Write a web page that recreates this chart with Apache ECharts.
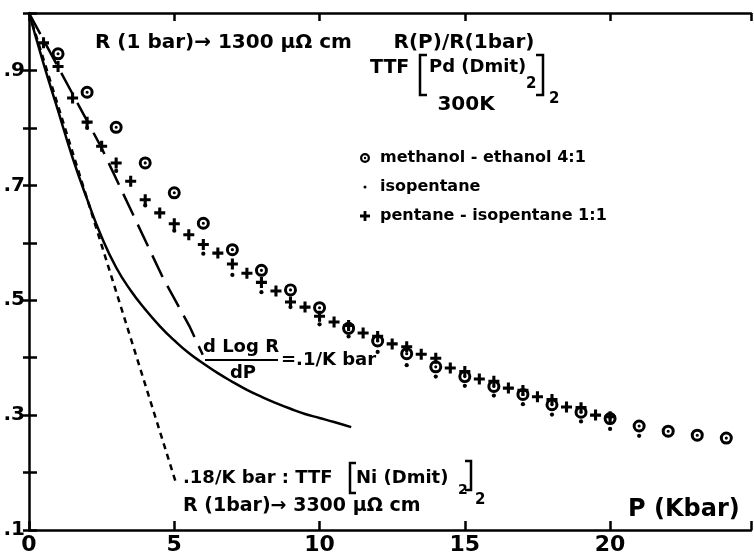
<!DOCTYPE html>
<html><head><meta charset="utf-8">
<script src="https://cdn.jsdelivr.net/npm/echarts@6/dist/echarts.min.js"></script>
<style>html,body{margin:0;padding:0;background:#fff}#c{width:754px;height:556px}</style>
</head><body><div id="c"></div>
<script>
// ---- data ----
const methanolP = [1,2,3,4,5,6,7,8,9,10,11,12,13,14,15,16,17,18,19,20,21,22,23,24];
const methanolR = [0.929,0.862,0.801,0.739,0.687,0.634,0.588,0.552,0.518,0.487,0.451,0.429,0.407,0.384,0.367,0.350,0.336,0.318,0.305,0.294,0.281,0.272,0.265,0.260];
const isoP = [2,3,4,5,6,7,8,9,10,11,12,13,14,15,16,17,18,19,20,21];
const isoR = [0.800,0.725,0.665,0.621,0.581,0.544,0.514,0.488,0.458,0.437,0.410,0.387,0.367,0.351,0.334,0.319,0.301,0.289,0.276,0.264];
const pentP = [0.5,1,1.5,2,2.5,3,3.5,4,4.5,5,5.5,6,6.5,7,7.5,8,8.5,9,9.5,10,10.5,11,11.5,12,12.5,13,13.5,14,14.5,15,15.5,16,16.5,17,17.5,18,18.5,19,19.5,20];
const pentR = [0.948,0.907,0.852,0.810,0.768,0.739,0.707,0.675,0.652,0.633,0.614,0.597,0.582,0.563,0.547,0.531,0.516,0.497,0.488,0.472,0.462,0.456,0.443,0.437,0.424,0.419,0.406,0.399,0.382,0.376,0.363,0.359,0.347,0.343,0.332,0.327,0.314,0.313,0.300,0.297];
const solidP = [0,0.5,1.0,1.5,2.0,2.5,3.0,3.5,4.0,4.5,5.0,5.5,6.0,6.5,7.0,7.5,8.0,8.5,9.0,9.5,10.0,10.5,11.09];
const solidR = [1.0,0.912,0.830,0.748,0.676,0.610,0.557,0.517,0.484,0.455,0.430,0.408,0.390,0.373,0.358,0.344,0.332,0.321,0.311,0.302,0.295,0.288,0.279];
const dashP = [0,2.48,4.6,5.52,5.98];
const dashR = [1.0,0.767,0.54,0.455,0.405];
const dotP = [0,5.07];
const dotR = [1.0,0.18];
const xTickValues = [0,5,10,15,20];
const yTickLabels = {1:'.1',3:'.3',5:'.5',7:'.7',9:'.9'};

const pairs = (xs, ys) => xs.map((x, i) => [x, ys[i]]);

const FONT = 'DejaVu Sans';
const ringPath = 'path://M0,-10 A10,10 0 1,1 0,10 A10,10 0 1,1 0,-10 Z M0,-5.4 A5.4,5.4 0 1,0 0,5.4 A5.4,5.4 0 1,0 0,-5.4 Z M0,-2.4 A2.4,2.4 0 1,1 0,2.4 A2.4,2.4 0 1,1 0,-2.4 Z';
const plusPath = 'path://M3.6,0 L6.4,0 L6.4,3.6 L10,3.6 L10,6.4 L6.4,6.4 L6.4,10 L3.6,10 L3.6,6.4 L0,6.4 L0,3.6 L3.6,3.6 Z';
const dotPath = 'path://M-10,-10 L-10,-10 M10,10 L10,10 M0,-3 A3,3 0 1,1 0,3 A3,3 0 1,1 0,-3 Z';

function txt(text, x, y, size, align, weight) {
  return {type:'text', x:x, y:y, silent:true, style:{text:text, fill:'#000', fontSize:size, fontFamily:FONT, fontWeight:weight||'bold', textAlign:align||'left', textVerticalAlign:'middle'}};
}
function pl(points, w) {
  return {type:'polyline', silent:true, shape:{points:points}, style:{stroke:'#000', lineWidth:w||2.5, fill:null}};
}

const chart = echarts.init(document.getElementById('c'), null, {renderer:'canvas'});
chart.setOption({
  animation:false,
  backgroundColor:'#fff',
  grid:{left:29, right:3, top:13, bottom:21, containLabel:false},
  xAxis:[{
    type:'value', min:0, max:24.85, interval:5, position:'bottom',
    axisLine:{show:true, onZero:false, lineStyle:{color:'#000', width:2.5}},
    axisTick:{show:true, inside:true, length:9, lineStyle:{color:'#000', width:2.5}},
    axisLabel:{show:true, margin:4, color:'#000', fontSize:22, fontWeight:'bold', fontFamily:FONT,
      formatter:v => xTickValues.indexOf(Math.round(v*1000)/1000) >= 0 ? String(Math.round(v)) : ''},
    splitLine:{show:false}
  },{
    type:'value', min:0, max:24.85, interval:5, position:'top',
    axisLine:{show:true, onZero:false, lineStyle:{color:'#000', width:2.5}},
    axisTick:{show:true, inside:true, length:8, lineStyle:{color:'#000', width:2.5}},
    axisLabel:{show:false}, splitLine:{show:false}
  }],
  yAxis:[{
    type:'value', min:0.1, max:1.0, interval:0.1, position:'left',
    axisLine:{show:true, onZero:false, lineStyle:{color:'#000', width:2.5}},
    axisTick:{show:true, inside:true, length:8, lineStyle:{color:'#000', width:2.5}},
    axisLabel:{show:true, margin:4, color:'#000', fontSize:20, fontWeight:'bold', fontFamily:FONT,
      formatter:v => yTickLabels[Math.round(v*10)] || ''},
    splitLine:{show:false}
  },{
    type:'value', min:0.1, max:1.0, interval:0.1, position:'right',
    axisLine:{show:false},
    axisTick:{show:true, inside:true, length:6, lineStyle:{color:'#000', width:2.5}},
    axisLabel:{show:false}, splitLine:{show:false}
  }],
  legend:{
    orient:'vertical', left:355, top:145, itemWidth:12, itemHeight:10, itemGap:13,
    textStyle:{color:'#000', fontSize:16, fontFamily:FONT, fontWeight:'bold', padding:[0,0,0,4]},
    data:['methanol - ethanol 4:1','isopentane','pentane - isopentane 1:1']
  },
  series:[
    {type:'line', name:'solid', data:pairs(solidP, solidR), smooth:0.5, symbol:'none', lineStyle:{color:'#000', width:2.5}, silent:true},
    {type:'line', name:'dLogR', data:pairs(dashP, dashR), symbol:'none', lineStyle:{color:'#000', width:2.5, type:[24,10]}, silent:true},
    {type:'line', name:'Ni', data:pairs(dotP, dotR), symbol:'none', lineStyle:{color:'#000', width:2.5, type:[6,5]}, silent:true},
    {type:'scatter', name:'methanol - ethanol 4:1', data:pairs(methanolP, methanolR), symbol:ringPath, symbolSize:13, symbolKeepAspect:true, itemStyle:{color:'#000', opacity:1}},
    {type:'scatter', name:'pentane - isopentane 1:1', data:pairs(pentP, pentR), symbol:plusPath, symbolSize:11, symbolKeepAspect:true, itemStyle:{color:'#000', opacity:1}},
    {type:'scatter', name:'isopentane', data:pairs(isoP, isoR), symbol:dotPath, symbolSize:14, symbolKeepAspect:true, itemStyle:{color:'#000', opacity:1}}
  ],
  graphic:[
    txt('R (1 bar)\u2192 1300 \u03bc\u03a9 cm', 95, 43, 20),
    txt('R(P)/R(1bar)', 464, 43, 20, 'center'),
    txt('TTF', 370, 68, 19),
    pl([[427,55],[420,55],[420,95],[427,95]]),
    txt('Pd (Dmit)', 429, 67, 18),
    txt('2', 526, 84, 15),
    pl([[536,55],[543,55],[543,95],[536,95]]),
    txt('2', 549, 99, 15),
    txt('300K', 466, 105, 20, 'center'),
    txt('d Log R', 241, 347, 18, 'center'),
    pl([[205,360],[278,360]], 2),
    txt('dP', 243, 373, 18, 'center'),
    txt('=.1/K bar', 281, 360, 18),
    txt('.18/K bar : TTF', 183, 478, 18),
    pl([[356,463],[350,463],[350,493],[356,493]]),
    txt('Ni (Dmit)', 356, 478, 18),
    txt('2', 458, 490, 14),
    pl([[465,461],[471,461],[471,490],[465,490]]),
    txt('2', 475, 500, 15),
    txt('R (1bar)\u2192 3300 \u03bc\u03a9 cm', 183, 506, 19),
    txt('P (Kbar)', 628, 510, 24)
  ]
});
</script></body></html>
